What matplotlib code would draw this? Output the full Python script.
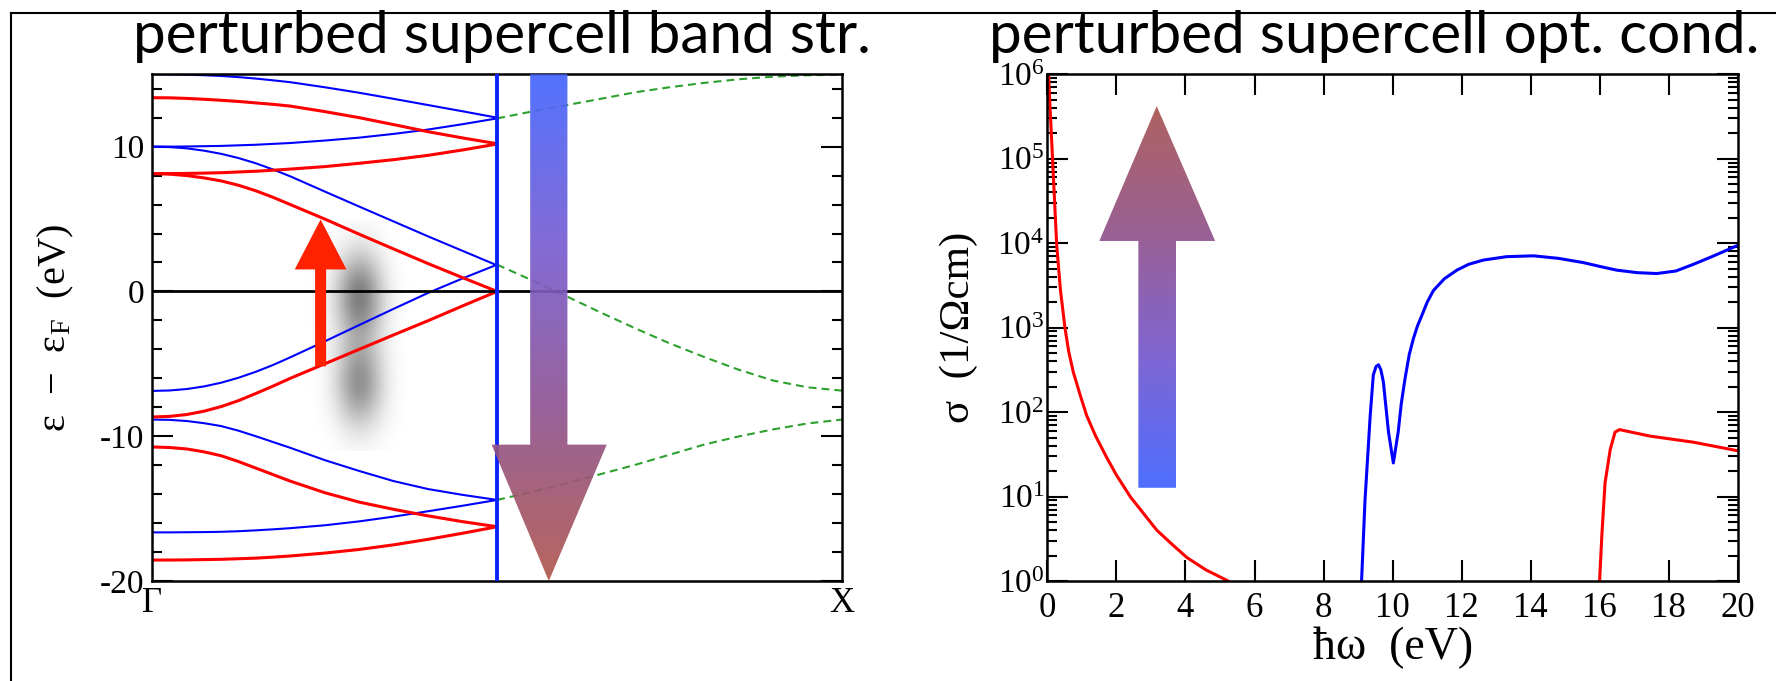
import numpy as np
import matplotlib.pyplot as plt
from matplotlib.colors import LinearSegmentedColormap
from matplotlib.patches import Polygon
from matplotlib.lines import Line2D
from matplotlib.ticker import MultipleLocator, LogLocator, FuncFormatter, NullFormatter

plt.rcParams['font.family'] = ['Liberation Serif', 'DejaVu Serif']
plt.rcParams['mathtext.fontset'] = 'stix'
plt.rcParams['axes.unicode_minus'] = False

# ---- band structure, Gamma -> X (eV) ----
k_fold = [0.0, 0.025, 0.05, 0.075, 0.1, 0.125, 0.15, 0.175, 0.2,
          0.25, 0.3, 0.35, 0.4, 0.45, 0.5]
blue_bands = [
    [15.0, 14.99, 14.97, 14.93, 14.88, 14.8, 14.7, 14.58, 14.45,
     14.1, 13.72, 13.3, 12.87, 12.44, 12.0],
    [10.0, 10.0, 10.01, 10.03, 10.05, 10.09, 10.13, 10.19, 10.25,
     10.42, 10.62, 10.88, 11.18, 11.55, 11.95],
    [10.0, 9.97, 9.88, 9.72, 9.5, 9.21, 8.85, 8.42, 7.95,
     6.9, 5.86, 4.83, 3.8, 2.8, 1.8],
    [-6.87, -6.84, -6.74, -6.56, -6.3, -5.96, -5.55, -5.08, -4.55,
     -3.45, -2.32, -1.2, -0.1, 0.9, 1.85],
    [-8.85, -8.87, -8.95, -9.1, -9.3, -9.62, -10.0, -10.4, -10.8,
     -11.65, -12.4, -13.1, -13.65, -14.05, -14.4],
    [-16.64, -16.64, -16.63, -16.62, -16.6, -16.56, -16.5, -16.43, -16.35,
     -16.15, -15.88, -15.55, -15.18, -14.8, -14.4],
]
red_bands = [
    [13.38, 13.37, 13.33, 13.27, 13.2, 13.12, 13.02, 12.92, 12.8,
     12.42, 12.0, 11.52, 11.03, 10.6, 10.2],
    [8.14, 8.14, 8.15, 8.17, 8.2, 8.25, 8.3, 8.37, 8.45,
     8.62, 8.85, 9.1, 9.4, 9.77, 10.18],
    [8.14, 8.1, 8.0, 7.84, 7.63, 7.33, 6.95, 6.5, 6.0,
     5.0, 3.95, 2.93, 1.92, 0.95, 0.0],
    [-8.67, -8.63, -8.5, -8.27, -7.95, -7.54, -7.05, -6.54, -6.0,
     -5.0, -4.0, -3.0, -2.02, -1.0, 0.0],
    [-10.74, -10.78, -10.88, -11.08, -11.35, -11.75, -12.2, -12.65, -13.1,
     -13.9, -14.55, -15.05, -15.5, -15.9, -16.25],
    [-18.55, -18.55, -18.54, -18.52, -18.5, -18.46, -18.42, -18.35, -18.27,
     -18.07, -17.82, -17.5, -17.12, -16.7, -16.25],
]
k_unfold = [0.5, 0.55, 0.6, 0.65, 0.7, 0.75, 0.8, 0.85, 0.9, 0.95, 1.0]
green_bands = [
    [11.95, 12.42, 12.86, 13.3, 13.75, 14.1, 14.4, 14.65, 14.83, 14.93, 14.97],
    [1.85, 0.78, -0.32, -1.45, -2.54, -3.58, -4.52, -5.4, -6.15, -6.62, -6.85],
    [-14.4, -13.85, -13.26, -12.62, -11.98, -11.28, -10.58, -10.02, -9.53, -9.12, -8.85],
]
k_labels = ['Γ', 'X']

# ---- optical conductivity ----
w_red_low = [0.02, 0.06, 0.155, 0.27, 0.38, 0.51, 0.62, 0.75, 0.95, 1.14, 1.4, 1.72, 2.0,
             2.4, 2.8, 3.17, 3.6, 4.04, 4.6, 5.24, 5.4]
s_red_low = [1.6e6, 5.9e5, 9.3e4, 9.8e3, 2.8e3, 1.0e3, 520, 300, 160, 91, 52, 29, 18,
             10, 6.2, 4.0, 2.75, 1.9, 1.35, 1.0, 0.9]
w_blue = [9.08, 9.10, 9.2, 9.35, 9.44, 9.52, 9.59, 9.66, 9.73, 9.88, 10.02, 10.16,
          10.25, 10.36, 10.48, 10.6, 10.72, 10.85, 11.0, 11.18, 11.5, 11.86, 12.2,
          12.63, 13.3, 14.08, 14.8, 15.52, 16.0, 16.49, 17.1, 17.65, 18.2, 18.71,
          19.3, 19.97, 20.0]
s_blue = [0.8, 1.0, 9.1, 91, 275, 347, 363, 316, 229, 58, 25, 58,
          126, 251, 479, 740, 1050, 1410, 2000, 2750, 3800, 4790, 5620,
          6310, 6920, 7080, 6610, 5890, 5300, 4790, 4470, 4370, 4680, 5620,
          7080, 9330, 9400]
w_red_high = [15.98, 16.06, 16.15, 16.30, 16.44, 16.57, 17.45, 18.71, 19.97, 20.0]
s_red_high = [0.8, 3.6, 14.5, 36, 58, 62, 52, 44, 35, 35]


def grad_arrow(ax, verts, extent, colors, transform, alpha=1.0):
    cmap = LinearSegmentedColormap.from_list('arrow', colors)
    poly = Polygon(verts, closed=True, transform=transform, facecolor='none',
                   edgecolor='none')
    ax.add_patch(poly)
    grad = np.linspace(0, 1, 256).reshape(-1, 1)
    im = ax.imshow(grad, cmap=cmap, extent=extent, origin='upper', aspect='auto',
                   transform=transform, alpha=alpha, zorder=5, interpolation='bilinear')
    im.set_clip_path(poly)


fig = plt.figure(figsize=(17.76, 6.81), dpi=100)
ax1 = fig.add_axes([0.0858, 0.1468, 0.3882, 0.7442])
ax2 = fig.add_axes([0.5897, 0.1468, 0.3889, 0.7442])

# left panel: band structure
bx = np.linspace(0.22, 0.38, 80)
by = np.linspace(-11, 5, 200)
X, Y = np.meshgrid(bx, by)
prof = np.exp(-((Y + 0.3) / 3.0) ** 2) + 0.85 * np.exp(-((Y + 6.3) / 3.0) ** 2)
shade = np.clip(prof, 0, 1) * np.exp(-((X - 0.30) / 0.024) ** 2 / 2)
blur = np.zeros(X.shape + (4,))
blur[..., 3] = 0.5 * shade
ax1.imshow(blur, extent=(0.22, 0.38, -11, 5), origin='lower', aspect='auto', zorder=0.5)

for b in blue_bands:
    ax1.plot(k_fold, b, color='#0000ff', lw=1.5, zorder=2)
for r in red_bands:
    ax1.plot(k_fold, r, color='#ff0000', lw=2.2, zorder=2)
for g in green_bands:
    ax1.plot(k_unfold, g, color='#2ea02e', lw=1.5, dashes=(3.8, 2.4), zorder=2)
ax1.axhline(0, color='black', lw=2.0, zorder=2)
ax1.axvline(0.5, color='#0a22ff', lw=2.8, zorder=3)

ax1.arrow(0.244, -5.17, 0, 10.14, width=0.016, head_width=0.075, head_length=3.45,
          length_includes_head=True, color='#ff2200', lw=0, zorder=4)
grad_arrow(ax1,
           [(0.548, 15), (0.602, 15), (0.602, -10.58), (0.659, -10.58), (0.575, -20),
            (0.492, -10.58), (0.548, -10.58)],
           (0.49, 0.66, -20, 15),
           ['#4466ff', '#785ed2', '#905490', '#b0584d'], ax1.transData, alpha=0.92)

ax1.set_xlim(0, 1)
ax1.set_ylim(-20, 15)
ax1.set_xticks([0, 1])
ax1.set_xticklabels(k_labels)
ax1.yaxis.set_major_locator(MultipleLocator(10))
ax1.yaxis.set_minor_locator(MultipleLocator(2))
ax1.tick_params(axis='y', which='both', direction='in', left=True, right=True,
                labelsize=24, width=1.5, pad=6)
ax1.tick_params(axis='y', which='major', length=15)
ax1.tick_params(axis='y', which='minor', length=7)
ax1.tick_params(axis='x', length=0, labelsize=25, pad=4)
ax1.set_ylabel('ε  −  $\\mathregular{ε_{F}}$  (eV)', fontsize=29, va='center')
ax1.yaxis.set_label_coords(-0.14, 0.5)

# right panel: optical conductivity
ax2.plot(w_red_low, s_red_low, color='#ff0000', lw=2.2)
ax2.plot(w_blue, s_blue, color='#0000ff', lw=2.2)
ax2.plot(w_red_high, s_red_high, color='#ff0000', lw=2.2)
ax2.set_yscale('log')
ax2.set_xlim(0, 20)
ax2.set_ylim(1, 1e6)
grad_arrow(ax2,
           [(0.1318, 0.184), (0.1863, 0.184), (0.1863, 0.671), (0.243, 0.671),
            (0.1584, 0.937), (0.0753, 0.671), (0.1318, 0.671)],
           (0.07, 0.25, 0.184, 0.937),
           ['#aa5a58', '#94578f', '#785ed2', '#4466ff'], ax2.transAxes, alpha=0.95)

ax2.xaxis.set_major_locator(MultipleLocator(2))
ax2.yaxis.set_major_locator(LogLocator(base=10, numticks=10))
ax2.yaxis.set_minor_locator(LogLocator(base=10, subs=np.arange(2, 10), numticks=20))
ax2.yaxis.set_minor_formatter(NullFormatter())
ax2.yaxis.set_major_formatter(FuncFormatter(lambda v, p: r'$\mathdefault{10^{%d}}$' % round(np.log10(v))))
ax2.tick_params(which='both', direction='in', top=True, right=True, width=1.5)
ax2.tick_params(which='major', length=15)
ax2.tick_params(which='minor', length=7)
ax2.tick_params(axis='x', labelsize=25, pad=8)
ax2.tick_params(axis='y', labelsize=24, pad=2)
ax2.set_xlabel('ħω  (eV)', fontsize=33, va='center')
ax2.xaxis.set_label_coords(0.5, -0.132)
ax2.set_ylabel('σ  (1/Ωcm)', fontsize=31, va='center')
ax2.yaxis.set_label_coords(-0.128, 0.5)

for ax in (ax1, ax2):
    for s in ax.spines.values():
        s.set_linewidth(1.8)

# titles and outer frame
fig.text(0.0749, 0.922, 'perturbed supercell band str.', fontsize=42, family='Lato',
         va='baseline')
fig.text(0.5566, 0.922, 'perturbed supercell opt. cond.', fontsize=42, family='Lato',
         va='baseline')
fig.add_artist(Line2D([0.0062, 1.0], [0.9813, 0.9813], transform=fig.transFigure,
                      color='black', lw=1.5))
fig.add_artist(Line2D([0.0062, 0.0062], [0.0, 0.9813], transform=fig.transFigure,
                      color='black', lw=1.5))

fig.savefig('out.png', dpi=100)
